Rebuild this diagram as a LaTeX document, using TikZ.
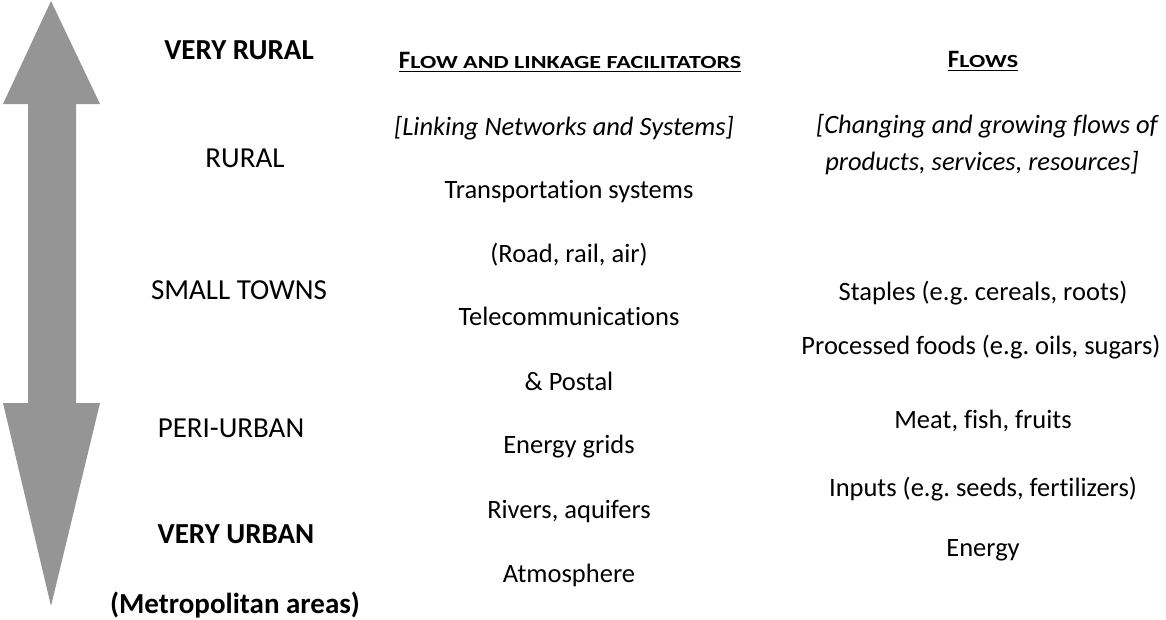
\documentclass[tikz,border=0pt]{standalone}
\usepackage{fontspec}
\usepackage{graphicx}
\setmainfont{Carlito}[Ligatures=CommonOff]
\frenchspacing
\newcommand\ulhead[1]{\vtop{\hbox{#1}\kern2.5pt\hrule height 1.6pt}}
\newcommand\smc[1]{\scalebox{1.3}[1]{\fontsize{18.5}{22}\selectfont #1}}
\definecolor{arrowgray}{HTML}{959595}
\tikzset{
  txt/.style={anchor=base, inner sep=0pt, font=\fontsize{26.5}{32}\selectfont\frenchspacing},
  ltxt/.style={anchor=base, inner sep=0pt, font=\fontsize{29}{34}\selectfont},
  lbtxt/.style={anchor=base, inner sep=0pt, font=\fontsize{29}{34}\selectfont\bfseries},
  itxt/.style={txt, font=\fontsize{26.5}{32}\selectfont\itshape},
  head/.style={anchor=base, inner sep=0pt, font=\fontsize{25}{30}\selectfont\bfseries},
}
\begin{document}
\begin{tikzpicture}[x=1pt,y=-1pt]
\useasboundingbox (0,0) rectangle (1166,619);
% double arrow
\fill[arrowgray] (51,1) -- (100,104) -- (76,104) -- (76,403) -- (100,403) -- (51,606)
  -- (3,403) -- (28,403) -- (28,104) -- (3,104) -- cycle;
% left column
\node[lbtxt] (vr) at (239,59) {VERY RURAL};
\node[ltxt] (ru) at (245,167) {RURAL};
\node[ltxt] (st) at (239,299) {SMALL TOWNS};
\node[ltxt] (pu) at (231,437) {PERI-URBAN};
\node[lbtxt] (vu) at (236,543) {VERY URBAN};
\node[lbtxt] (ma) at (235,613) {(Metropolitan areas)};
% middle column
\node[head] (h1) at (570,68) {\ulhead{F\smc{LOW AND LINKAGE FACILITATORS}}};
\node[itxt] (m0) at (564,135) {[Linking Networks and Systems]};
\node[txt] (m1) at (569,198) {Transportation systems};
\node[txt] (m2) at (569,262) {(Road, rail, air)};
\node[txt] (m3) at (569,325) {Telecommunications};
\node[txt] (m4) at (569,390) {\& Postal};
\node[txt] (m5) at (569,453) {Energy grids};
\node[txt] (m6) at (569,518) {Rivers, aquifers};
\node[txt] (m7) at (569,582) {Atmosphere};
% right column
\node[head] (h2) at (983,67) {\ulhead{F\smc{LOWS}}};
\node[itxt] (r0) at (987,133) {[Changing and growing flows of};
\node[itxt] (r0b) at (982,170) {products, services, resources]};
\node[txt] (r1) at (983,300) {Staples (e.g. cereals, roots)};
\node[txt] (r2) at (981,354) {Processed foods (e.g. oils, sugars)};
\node[txt] (r3) at (983,428) {Meat, fish, fruits};
\node[txt] (r4) at (983,496) {Inputs (e.g. seeds, fertilizers)};
\node[txt] (r5) at (983,556) {Energy};
\end{tikzpicture}
\end{document}
